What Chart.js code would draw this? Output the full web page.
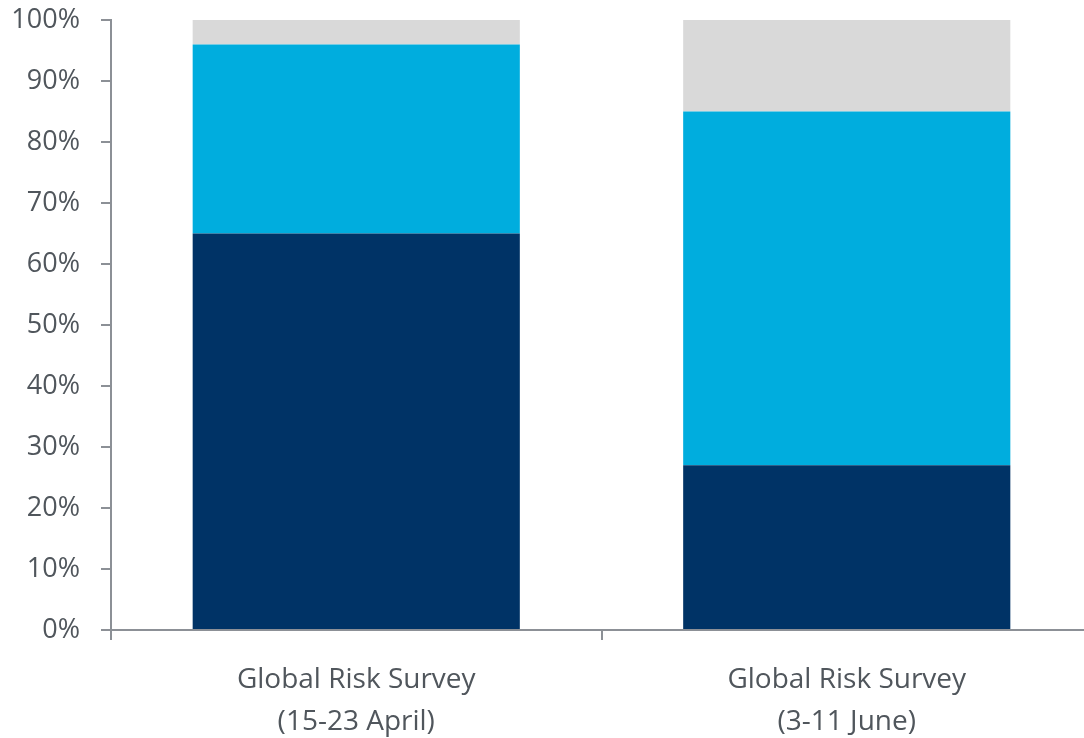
<!DOCTYPE html>
<html>
<head>
<meta charset="utf-8">
<script src="https://cdn.jsdelivr.net/npm/chart.js@4/dist/chart.umd.min.js"></script>
<style>
  html, body { margin: 0; padding: 0; background: #ffffff; overflow: hidden; }
  #wrap { width: 1092px; height: 738px; position: relative; }
</style>
</head>
<body>
<div id="wrap"><canvas id="chart"></canvas></div>
<script>
// Survey periods (x-axis categories)
const categories = [
  ["Global Risk Survey", "(15-23 April)"],
  ["Global Risk Survey", "(3-11 June)"]
];
// Share of respondents per answer group, percent (stacked bottom to top)
const seriesBottom = [65, 27];
const seriesMiddle = [31, 58];
const seriesTop = [4, 15];
const yTicks = [0, 10, 20, 30, 40, 50, 60, 70, 80, 90, 100];

const axisColor = '#8c9096';
const textColor = '#50565c';
const fontFamily = '"Open Sans", "Noto Sans", sans-serif';

new Chart(document.getElementById('chart'), {
  type: 'bar',
  data: {
    labels: categories,
    datasets: [
      { data: seriesBottom, backgroundColor: '#003366', borderWidth: 0 },
      { data: seriesMiddle, backgroundColor: '#00adde', borderWidth: 0 },
      { data: seriesTop, backgroundColor: '#d9d9d9', borderWidth: 0 }
    ]
  },
  options: {
    responsive: true,
    maintainAspectRatio: false,
    animation: false,
    layout: { padding: { top: 20, left: 0, right: 0, bottom: 0 } },
    plugins: { legend: { display: false }, tooltip: { enabled: false } },
    datasets: { bar: { categoryPercentage: 0.667, barPercentage: 1.0 } },
    scales: {
      x: {
        stacked: true,
        grid: { display: true, offset: true, drawOnChartArea: false, drawTicks: true, tickLength: 10, color: axisColor, lineWidth: 2 },
        border: { display: true, color: axisColor, width: 2 },
        ticks: {
          color: textColor,
          font: { family: fontFamily, size: 28, lineHeight: 1.5 },
          padding: 19,
          maxRotation: 0
        },
        afterFit: (scale) => { scale.height = 108; }
      },
      y: {
        stacked: true,
        min: 0,
        max: 100,
        afterBuildTicks: (scale) => { scale.ticks = yTicks.map(v => ({ value: v })); },
        grid: { display: true, drawOnChartArea: false, drawTicks: true, tickLength: 10, color: axisColor, lineWidth: 2 },
        border: { display: true, color: axisColor, width: 2 },
        ticks: {
          color: textColor,
          font: { family: fontFamily, size: 27 },
          padding: 21,
          callback: (v) => v + '%'
        },
        afterFit: (scale) => { scale.width = 111; scale.paddingTop = 0; scale.paddingBottom = 0; }
      }
    }
  }
});
</script>
</body>
</html>
